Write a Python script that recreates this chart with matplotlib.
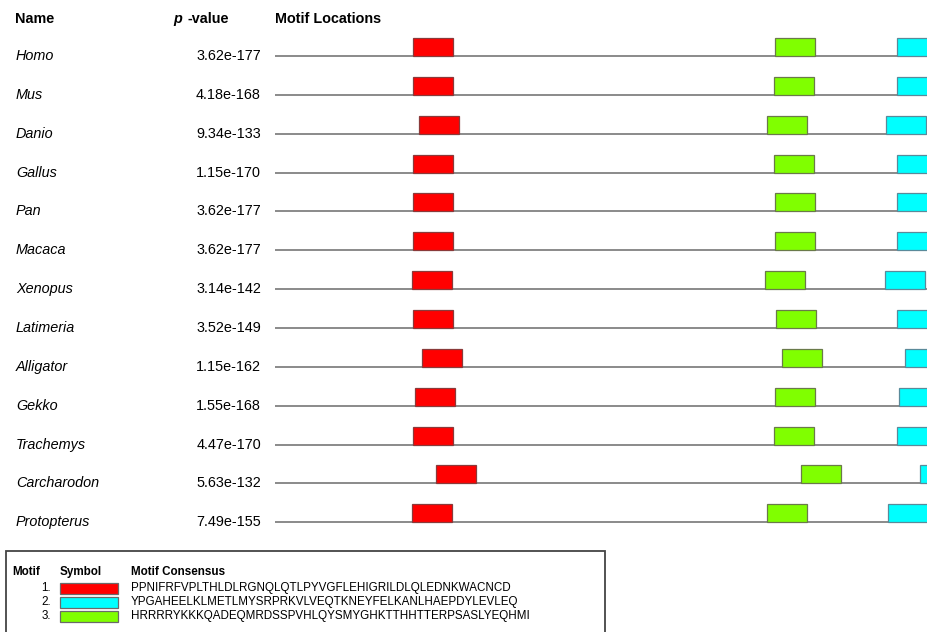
import matplotlib
matplotlib.use('Agg')
from matplotlib import pyplot as plt
from matplotlib.patches import Rectangle
from matplotlib.transforms import blended_transform_factory

plt.rcParams['font.family'] = ['Liberation Sans', 'DejaVu Sans']

# species, p-values and motif start positions (residues)
names = ['Homo', 'Mus', 'Danio', 'Gallus', 'Pan', 'Macaca', 'Xenopus',
         'Latimeria', 'Alligator', 'Gekko', 'Trachemys', 'Carcharodon',
         'Protopterus']
pvalues = ['3.62e-177', '4.18e-168', '9.34e-133', '1.15e-170', '3.62e-177',
           '3.62e-177', '3.14e-142', '3.52e-149', '1.15e-162', '1.55e-168',
           '4.47e-170', '5.63e-132', '7.49e-155']
motif1_start = [173, 173, 180, 173, 173, 173, 171, 173, 184, 175, 173, 201, 171]
motif3_start = [625, 624, 615, 624, 625, 625, 613, 626, 634, 625, 624, 657, 615]
motif2_start = [778, 777, 764, 777, 778, 778, 763, 778, 788, 780, 777, 806, 766]
motif_len = 50
seq_len = 900

motif_ids = ['1.', '2.', '3.']
motif_colors = ['#ff0000', '#00ffff', '#80ff00']
motif_consensus = ['PPNIFRFVPLTHLDLRGNQLQTLPYVGFLEHIGRILDLQLEDNKWACNCD',
                   'YPGAHEELKLMETLMYSRPRKVLVEQTKNEYFELKANLHAEPDYLEVLEQ',
                   'HRRRRYKKKQADEQMRDSSPVHLQYSMYGHKTTHHTTERPSASLYEQHMI']

W, H = 928, 632
fig = plt.figure(figsize=(W / 100, H / 100), dpi=100)

# track axes: rows at y = 56 + 38.86*i px, line starts at x = 275 px
row_h = 38.86
top_px = 56 - 0.5 * row_h
bot_px = 56 + 12.5 * row_h
ax = fig.add_axes([275 / W, 1 - bot_px / H, 1 - 275 / W, (bot_px - top_px) / H])
ax.set_xlim(0, (W - 275) / 0.8)
ax.set_ylim(12.5, -0.5)
ax.axis('off')

rows = list(range(len(names)))
ax.hlines(rows, 0, seq_len, color='#8a8a8a', lw=1.4, zorder=1)
box_h = 18 / row_h
for starts, col, edge in [(motif1_start, motif_colors[0], '#8a3a3a'),
                          (motif3_start, motif_colors[2], '#6a7a4a'),
                          (motif2_start, motif_colors[1], '#5a8a9a')]:
    ax.barh([r - box_h / 2 for r in rows], motif_len, left=starts, height=box_h,
            color=col, edgecolor=edge, linewidth=0.9, zorder=2)

# text columns
tr = blended_transform_factory(fig.transFigure, ax.transData)
for r, (n, p) in enumerate(zip(names, pvalues)):
    ax.text(16 / W, r, n, transform=tr, fontsize=10.4, style='italic',
            va='center', ha='left')
    ax.text(261 / W, r, p, transform=tr, fontsize=10.4, va='center', ha='right')

hy = 1 - 19 / H
fig.text(15 / W, hy, 'Name', fontsize=10.4, weight='bold', va='center')
fig.text(173 / W, hy, 'p', fontsize=10.4, weight='bold', style='italic', va='center')
fig.text(188 / W, hy, '-value', fontsize=10.4, weight='bold', va='center')
fig.text(275 / W, hy, 'Motif Locations', fontsize=10.4, weight='bold', va='center')

# legend box
fig.patches.append(Rectangle((6 / W, -0.05), (605 - 6) / W, 0.05 + 1 - 551 / H,
                             transform=fig.transFigure, fill=False,
                             edgecolor='#444444', linewidth=1.3))
lh = 1 - 572 / H
fs = 8.4
fig.text(12 / W, lh, 'Motif', fontsize=fs, weight='bold', va='center')
fig.text(60 / W, lh, 'Symbol', fontsize=fs, weight='bold', va='center')
fig.text(131 / W, lh, 'Motif Consensus', fontsize=fs, weight='bold', va='center')
for i, (mid, col, cons) in enumerate(zip(motif_ids, motif_colors, motif_consensus)):
    yc = 588 + 14 * i
    fig.text(51 / W, 1 - yc / H, mid, fontsize=fs, ha='right', va='center')
    fig.patches.append(Rectangle((60 / W, 1 - (yc + 5.5) / H), 58 / W, 11 / H,
                                 transform=fig.transFigure, facecolor=col,
                                 edgecolor='#6a6a6a', linewidth=0.9))
    fig.text(131 / W, 1 - yc / H, cons, fontsize=fs, va='center')

fig.savefig('out.png', dpi=100)
